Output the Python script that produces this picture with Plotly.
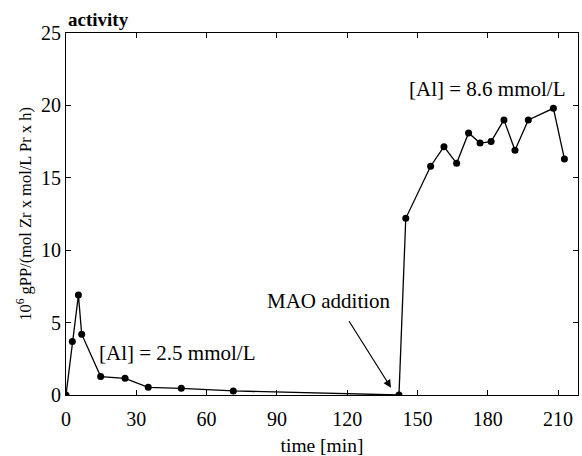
import plotly.graph_objects as go

time_min = [0, 2.7, 5.3, 6.7, 14.8, 25.2, 35.1, 49.2, 71.4, 142.1,
            145.0, 155.6, 161.3, 166.7, 171.8, 176.7, 181.4, 186.9, 191.6, 197.3, 208.0, 212.7]
activity = [0, 3.7, 6.9, 4.2, 1.27, 1.15, 0.53, 0.46, 0.28, 0.0,
            12.2, 15.8, 17.15, 16.0, 18.1, 17.4, 17.5, 19.0, 16.9, 19.0, 19.8, 16.3]
x_ticks = [0, 30, 60, 90, 120, 150, 180, 210]
y_ticks = [0, 5, 10, 15, 20, 25]

FONT = "Liberation Serif, Times New Roman, serif"

fig = go.Figure()
fig.add_trace(go.Scatter(
    x=time_min, y=activity, mode="lines+markers",
    line=dict(color="black", width=1.3),
    marker=dict(color="black", size=7),
    showlegend=False,
))

fig.add_annotation(x=13.2, y=2.9, xref="x", yref="y", text="[Al] = 2.5 mmol/L",
                   showarrow=False, xanchor="left", font=dict(family=FONT, size=21, color="black"))
fig.add_annotation(x=179.7, y=21.1, xref="x", yref="y", text="[Al] = 8.6 mmol/L",
                   showarrow=False, font=dict(family=FONT, size=21, color="black"))
fig.add_annotation(x=139.5, y=6.5, xref="x", yref="y", text="MAO addition",
                   showarrow=False, xanchor="right", font=dict(family=FONT, size=21, color="black"))
fig.add_annotation(x=138.7, y=0.5, ax=120.4, ay=5.2, xref="x", yref="y", axref="x", ayref="y",
                   text="", showarrow=True, arrowhead=2, arrowsize=1.3, arrowwidth=1.2, arrowcolor="black")
fig.add_annotation(x=0, y=1, xref="paper", yref="paper", text="<b>activity</b>",
                   showarrow=False, xanchor="left", yanchor="bottom", yshift=1,
                   font=dict(family=FONT, size=19, color="black"))

axis_common = dict(showline=True, linecolor="black", linewidth=1.2, mirror="ticks",
                   ticks="inside", ticklen=5, tickcolor="black", showgrid=False, zeroline=False,
                   automargin=False,
                   tickfont=dict(family=FONT, size=20, color="black"))

fig.update_layout(
    width=582, height=456,
    margin=dict(l=66, r=4, t=33, b=61),
    plot_bgcolor="white", paper_bgcolor="white",
    xaxis=dict(range=[0, 218.5], tickvals=x_ticks, ticklabelstandoff=6,
               title=dict(text="time [min]", font=dict(family=FONT, size=19.5, color="black"), standoff=12),
               **axis_common),
    yaxis=dict(range=[0, 25], tickvals=y_ticks,
               title=dict(text="10<sup>6</sup> gPP/(mol Zr x mol/L Pr x h)",
                          font=dict(family=FONT, size=16.5, color="black"), standoff=5),
               **axis_common),
)

fig.write_html("out.html", config={"displayModeBar": False},
               post_script="document.body.style.margin='0';document.body.style.overflow='hidden';")
